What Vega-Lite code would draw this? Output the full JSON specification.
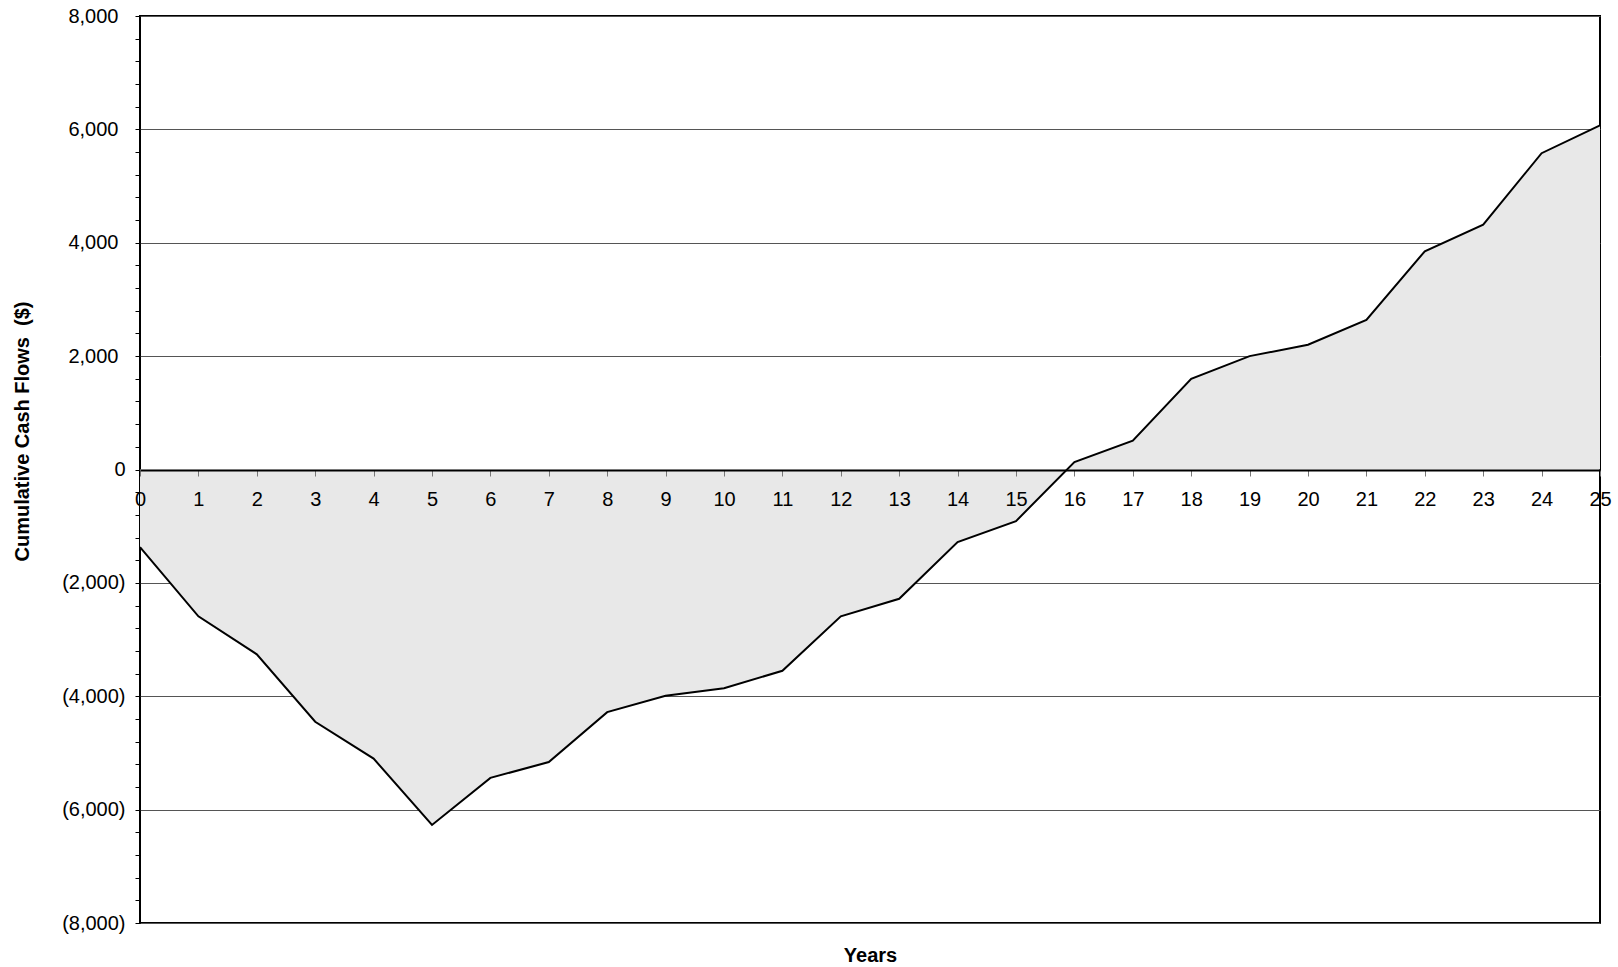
{
  "$schema": "https://vega.github.io/schema/vega-lite/v6.json",
  "autosize": "none",
  "padding": {"left": 140, "top": 16, "right": 18, "bottom": 44},
  "width": 1460,
  "height": 907,
  "background": "white",
  "data": {
    "values": [
      {"Year": 0, "Cumulative": -1370},
      {"Year": 1, "Cumulative": -2590},
      {"Year": 2, "Cumulative": -3260},
      {"Year": 3, "Cumulative": -4450},
      {"Year": 4, "Cumulative": -5100},
      {"Year": 5, "Cumulative": -6270},
      {"Year": 6, "Cumulative": -5440},
      {"Year": 7, "Cumulative": -5160},
      {"Year": 8, "Cumulative": -4280},
      {"Year": 9, "Cumulative": -3990},
      {"Year": 10, "Cumulative": -3860},
      {"Year": 11, "Cumulative": -3550},
      {"Year": 12, "Cumulative": -2590},
      {"Year": 13, "Cumulative": -2280},
      {"Year": 14, "Cumulative": -1280},
      {"Year": 15, "Cumulative": -910},
      {"Year": 16, "Cumulative": 130},
      {"Year": 17, "Cumulative": 510},
      {"Year": 18, "Cumulative": 1600},
      {"Year": 19, "Cumulative": 2000},
      {"Year": 20, "Cumulative": 2200},
      {"Year": 21, "Cumulative": 2640},
      {"Year": 22, "Cumulative": 3850},
      {"Year": 23, "Cumulative": 4320},
      {"Year": 24, "Cumulative": 5580},
      {"Year": 25, "Cumulative": 6070}
    ]
  },
  "mark": {
    "type": "area",
    "color": "#e8e8e8",
    "opacity": 1,
    "line": {"color": "black", "strokeWidth": 2}
  },
  "encoding": {
    "x": {
      "field": "Year",
      "type": "quantitative",
      "scale": {"domain": [0, 25], "nice": false, "zero": false},
      "axis": {
        "title": "Years",
        "values": [0,1,2,3,4,5,6,7,8,9,10,11,12,13,14,15,16,17,18,19,20,21,22,23,24,25],
        "format": "d",
        "offset": -453,
        "zindex": 1,
        "grid": false,
        "domainColor": "black",
        "domainWidth": 2,
        "tickColor": "#777777",
        "tickSize": 6,
        "tickWidth": 1,
        "labelPadding": 13,
        "labelFlush": false,
        "labelOverlap": false,
        "titleY": 485,
        "titleBaseline": "middle"
      }
    },
    "y": {
      "field": "Cumulative",
      "type": "quantitative",
      "scale": {"domain": [-8000, 8000], "nice": false},
      "axis": {
        "title": "Cumulative Cash Flows\u00a0 ($)",
        "values": [-8000,-7600,-7200,-6800,-6400,-6000,-5600,-5200,-4800,-4400,-4000,-3600,-3200,-2800,-2400,-2000,-1600,-1200,-800,-400,0,400,800,1200,1600,2000,2400,2800,3200,3600,4000,4400,4800,5200,5600,6000,6400,6800,7200,7600,8000],
        "labelExpr": "datum.value % 2000 !== 0 ? '' : (datum.value < 0 ? '(' + format(-datum.value, ',') + ')' : format(datum.value, ','))",
        "labelOverlap": false,
        "labelFlush": false,
        "labelPadding": {"condition": {"test": "datum.value <= 0", "value": 10}, "value": 17},
        "domain": false,
        "tickColor": "black",
        "tickSize": 5,
        "tickWidth": 1,
        "grid": true,
        "gridColor": "#555555",
        "gridWidth": 1,
        "gridOpacity": {"condition": {"test": "datum.value % 2000 === 0 && datum.value !== 0", "value": 1}, "value": 0},
        "titleAngle": 270,
        "titleX": -118,
        "titleY": 415,
        "titleAlign": "center",
        "titleBaseline": "middle"
      }
    }
  },
  "config": {
    "font": "Liberation Sans",
    "view": {"stroke": "black", "strokeWidth": 2},
    "axis": {
      "labelFont": "Liberation Sans",
      "labelFontSize": 20,
      "labelColor": "black",
      "titleFont": "Liberation Sans",
      "titleFontSize": 20,
      "titleFontWeight": "bold",
      "titleColor": "black"
    }
  }
}
